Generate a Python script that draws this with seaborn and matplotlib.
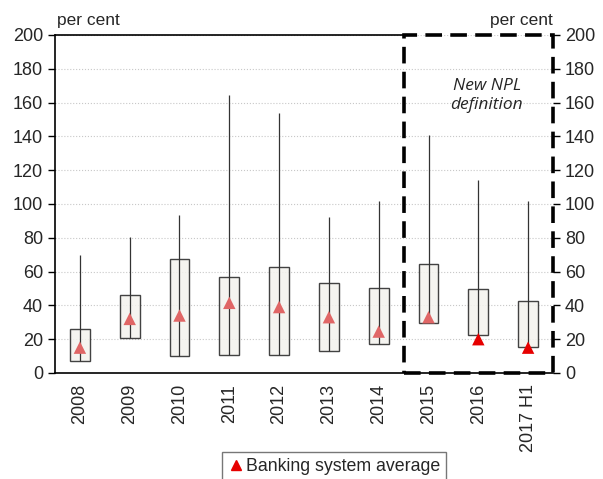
import numpy as np
import pandas as pd
import matplotlib
matplotlib.use("Agg")
import matplotlib.pyplot as plt
import seaborn as sns
from matplotlib.patches import Rectangle
from matplotlib.lines import Line2D

# data
years = ["2008", "2009", "2010", "2011", "2012", "2013", "2014", "2015", "2016", "2017 H1"]
box_low = [7, 20.5, 10, 10.5, 10.5, 13, 17, 29.5, 22.5, 15.5]
box_high = [26, 46, 67.5, 57, 63, 53, 50.5, 64.5, 49.5, 42.5]
whisker_top = [70, 80.5, 93.5, 164.5, 154, 92.5, 102, 141, 114, 102]
system_avg = [15, 32, 34, 41.5, 39, 33, 24.5, 33, 20, 15]
highlight = [False] * 8 + [True] * 2

sns.set_style("white")
plt.rcParams["font.family"] = ["Liberation Sans", "DejaVu Sans"]

df = pd.DataFrame({"year": years, "low": box_low, "high": box_high,
                   "top": whisker_top, "avg": system_avg, "hl": highlight})
df["pos"] = np.arange(len(df))

fig = plt.figure(figsize=(6.03, 4.79), dpi=100)
ax = fig.add_axes([0.0912, 0.2213, 0.8259, 0.7057])

# whiskers (from box bottom up to the maximum)
ax.vlines(df["pos"], df["low"], df["top"], color="#333333", lw=0.9, zorder=3)
# boxes
ax.bar(df["pos"], df["high"] - df["low"], bottom=df["low"], width=0.4,
       color="#f4f3ee", edgecolor="#222222", lw=1.0, alpha=0.85, zorder=2)

# averages
sns.scatterplot(data=df[~df["hl"]], x="pos", y="avg", marker="^", s=80, color="#e06666",
                edgecolor="none", ax=ax, zorder=4)
sns.scatterplot(data=df[df["hl"]], x="pos", y="avg", marker="^", s=80, color="#e60000",
                edgecolor="none", ax=ax, zorder=4)

ax.set_xlim(-0.5, len(years) - 0.5)
ax.set_ylim(0, 200)
ax.set_yticks(np.arange(0, 201, 20))
ax.yaxis.grid(True, color="#c8c8c8", ls=":", lw=0.8)
ax.set_axisbelow(True)
ax.set_xlabel("")
ax.set_ylabel("")

ax.set_xticks(df["pos"])
ax.set_xticklabels(years, rotation=90, fontsize=13)
ax.set_xticks(np.arange(-0.5, len(years), 1), minor=True)
ax.tick_params(axis="x", which="major", length=0, pad=8)
ax.tick_params(axis="x", which="minor", length=5, width=1, direction="out", color="black")
ax.tick_params(axis="y", length=5, width=1, direction="out", color="black", labelsize=13)

for s in ["top", "right"]:
    ax.spines[s].set_visible(False)
for s in ["left", "bottom"]:
    ax.spines[s].set_color("black")
    ax.spines[s].set_linewidth(1.2)
ax.axhline(200, xmin=0, xmax=0.7, color="black", lw=1.2, clip_on=False)

# right axis
ax2 = ax.twinx()
ax2.set_ylim(0, 200)
ax2.set_yticks(np.arange(0, 201, 20))
ax2.tick_params(axis="y", length=5, width=1, direction="out", color="black", labelsize=13)
for s in ax2.spines.values():
    s.set_visible(False)

# new NPL definition box
ax.add_patch(Rectangle((6.5, 0), 3, 200, fill=False, edgecolor="black", lw=2.6,
                       ls=(0, (4.6, 2.3)), clip_on=False, zorder=5))
ax.text(8.17, 164, "New NPL\ndefinition", ha="center", va="center", fontsize=12.5,
        style="italic", family=["Open Sans", "DejaVu Sans"], linespacing=1.25)

ax.text(0.005, 1.02, "per cent", transform=ax.transAxes, ha="left", va="bottom", fontsize=12.5)
ax.text(1.0, 1.02, "per cent", transform=ax.transAxes, ha="right", va="bottom", fontsize=12.5)

handle = Line2D([], [], marker="^", color="#e60000", ls="none", markersize=7)
fig.legend([handle], ["Banking system average"], loc="upper left",
           bbox_to_anchor=(0.368, 0.057), fontsize=12.8, frameon=True, fancybox=False,
           edgecolor="#555555", handletextpad=0.1, handlelength=0.9, borderpad=0.35,
           borderaxespad=0)

fig.savefig("out.png", dpi=100)
